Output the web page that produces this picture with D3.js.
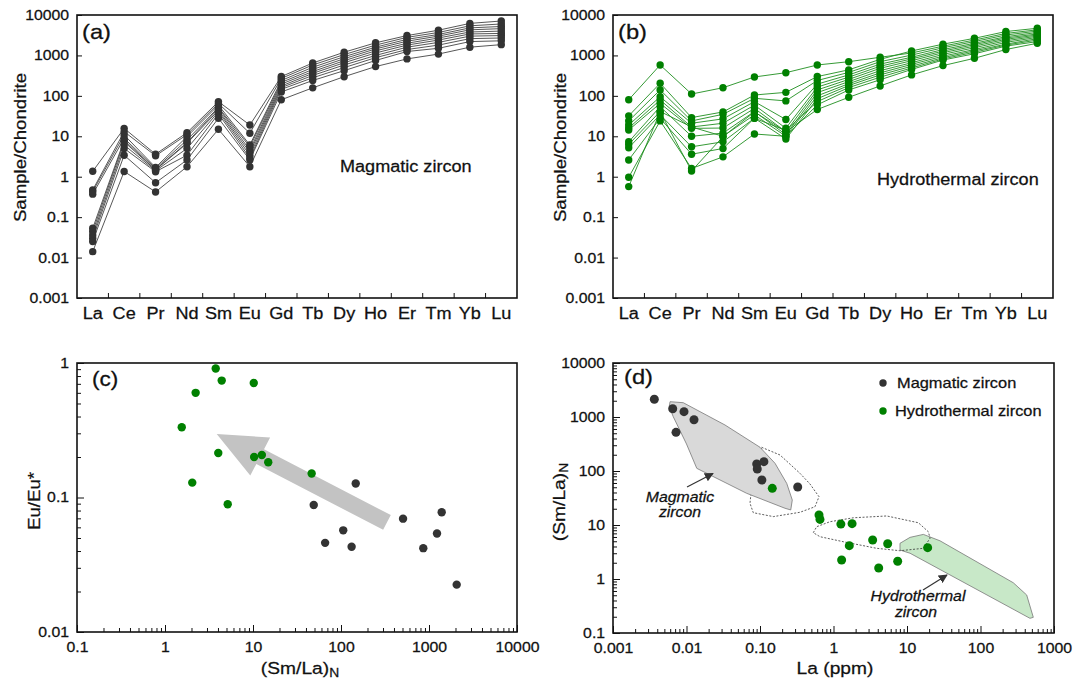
<!DOCTYPE html>
<html><head><meta charset="utf-8">
<script src="https://cdn.jsdelivr.net/npm/d3@7/dist/d3.min.js"></script>
<style>
body{margin:0;background:#fff}
svg text{font-family:"Liberation Sans",Arial,Helvetica,sans-serif;fill:#111;stroke:#111;stroke-width:0.25px}
</style></head>
<body><svg id="chart" width="1075" height="684"></svg>
<script>
// ---------- DATA ----------
const elements = ["La","Ce","Pr","Nd","Sm","Eu","Gd","Tb","Dy","Ho","Er","Tm","Yb","Lu"];
const reeTicks = [0.001,0.01,0.1,1,10,100,1000,10000];
const reeTickLabels = ["0.001","0.01","0.1","1","10","100","1000","10000"];

const magmaticREE = [
  [1.36,15.7,3.6,12.3,72,19,300,650,1200,2050,3100,4200,6200,7100],
  [0.47,13,3.3,11,65,11.9,270,580,1050,1800,2800,3700,5400,6000],
  [0.43,10.8,1.7,9.8,59,6.1,240,510,930,1600,2500,3300,4800,5200],
  [0.37,8.9,1.6,8.1,52,5.5,215,450,830,1450,2250,3000,4300,4600],
  [0.053,8.0,1.5,7.0,49,4.6,195,400,740,1300,2000,2700,3800,4000],
  [0.044,7.3,1.47,6.7,44,4.0,175,360,660,1150,1800,2400,3400,3500],
  [0.036,6.1,1.4,5.0,40.6,3.4,160,320,580,1000,1600,2100,3000,3100],
  [0.030,5.0,1.33,3.4,36,2.9,145,280,500,880,1400,1800,2600,2700],
  [0.025,3.4,0.71,2.6,28,2.6,125,240,420,750,1250,1500,2200,2300],
  [0.014,1.35,0.42,1.77,14.9,1.77,80,158,298,530,820,1080,1600,1850]
];
const hydrothermalREE = [
  [80,580,111,159,293,374,580,700,900,1150,1700,2400,3500,4300],
  [32,205,29,40,105,122,300,440,800,1290,1900,2650,3900,4700],
  [24,140,24,35,87,75,240,380,700,1020,1550,2200,3200,4000],
  [19,95,21,27,72,26,195,330,610,900,1400,2000,2900,3700],
  [16,79,17,21,59,15.8,165,290,540,820,1280,1850,2700,3400],
  [14.3,65,15.7,16,49,13,140,255,480,740,1170,1700,2500,3200],
  [7.3,54,10,12,41,11,120,225,420,660,1060,1550,2300,3000],
  [6.3,41,17,10,34,10,100,200,370,600,960,1400,2100,2800],
  [5.2,34,5.5,7.3,28,8.6,85,180,330,540,880,1300,1900,2600],
  [2.6,28,3.6,5,28,14,72,160,290,490,820,1200,1800,2400],
  [0.97,24,1.6,3.1,11.4,10,60,140,250,450,770,1100,1700,2200],
  [0.57,40,1.39,9.8,40,13,46,92,176,330,560,850,1400,2000]
];

// panel (c)
const cMagSmLa = [147,49,507,1394,106,66,132,861,1233,2064];
const cMagEuEu = [0.127,0.088,0.0696,0.0776,0.057,0.046,0.043,0.042,0.054,0.0225];
const cHydSmLa = [3.77,4.41,10.2,2.23,1.55,4.03,10.3,12.6,14.9,2.04,5.16,46.4];
const cHydEuEu = [0.91,0.74,0.71,0.60,0.333,0.214,0.20,0.207,0.183,0.129,0.089,0.151];
const cArrowTail = [333,0.0652];
const cArrowTip = [3.87,0.297];
const cXTicks = [0.1,1,10,100,1000,10000];
const cXLabels = ["0.1","1","10","100","1000","10000"];
const cYTicks = [0.01,0.1,1];
const cYLabels = ["0.01","0.1","1"];

// panel (d)
const dMagLa = [0.00365,0.00649,0.00925,0.01265,0.0072,0.0902,0.0918,0.113,0.106,0.326];
const dMagSmLa = [2128,1425,1255,891,520,135,109,149,68,50.6];
const dHydLa = [0.147,0.635,0.655,1.26,1.79,1.64,3.41,5.46,1.29,4.12,7.47,19.1];
const dHydSmLa = [47.8,15.3,12.7,10.4,10.6,4.14,5.27,4.5,2.25,1.6,2.13,3.8];
const dMagField = [[0.00597,1920],[0.00903,1840],[0.0334,711],[0.1,275],[0.16,139],[0.231,59],[0.275,29],[0.262,19],[0.219,20.4],[0.0659,38.6],[0.0138,112],[0.01,316],[0.0066,1014],[0.00583,1552]];
const dDotted1 = [[0.105,275],[0.187,198],[0.35,90.6],[0.479,57.4],[0.635,33.4],[0.56,21.8],[0.35,17.2],[0.152,14.3],[0.081,16.9],[0.0731,25.2],[0.0746,33.4]];
const dDotted2 = [[0.531,7.2],[0.59,9.3],[0.895,11.5],[1.86,13.6],[5.3,14.7],[14.3,11.0],[19.5,7.5],[20.6,5.7],[16.7,3.7],[8.0,3.34],[3.87,3.7],[1.36,4.9],[0.655,6.07]];
const dHydField = [[8.03,4.58],[11,5.9],[16.7,6.7],[28.1,5.1],[279,0.853],[425,0.506],[523,0.195],[471,0.187],[11,3.0],[8.03,3.44]];
const dXTicks = [0.001,0.01,0.1,1,10,100,1000];
const dXLabels = ["0.001","0.01","0.10","1","10","100","1000"];
const dYTicks = [0.1,1,10,100,1000,10000];
const dYLabels = ["0.1","1","10","100","1000","10000"];

// ---------- STYLE ----------
const SX = 1.13;
const MAG = "#333333", HYD = "#008000";
const svg = d3.select("#chart");
const defs = svg.append("defs");
defs.append("marker").attr("id","ah").attr("viewBox","0 0 10 10").attr("refX",9).attr("refY",5)
  .attr("markerWidth",9).attr("markerHeight",9).attr("markerUnits","userSpaceOnUse").attr("orient","auto")
  .append("path").attr("d","M0,0 L10,5 L0,10 z").attr("fill","#333");

function txt(g,x,y,s,size,o={}){
  const t=g.append("text")
    .attr("transform",`translate(${x},${y})`+(o.rot?` rotate(${o.rot})`:"")+` scale(${SX},1)`)
    .attr("text-anchor",o.anchor||"start").style("font-size",size+"px");
  if(o.italic) t.style("font-style","italic");
  if(o.weight) t.style("font-weight",o.weight);
  if(o.sub){ t.append("tspan").text(s); t.append("tspan").attr("dy",3).style("font-size",(size*0.72)+"px").text(o.sub); }
  else t.text(s);
  return t;
}
function frame(g,b){
  g.append("rect").attr("x",b.l).attr("y",b.t).attr("width",b.r-b.l).attr("height",b.b-b.t)
   .attr("fill","none").attr("stroke","#111").attr("stroke-width",1.6);
}
function styleAxis(a,size){
  a.select(".domain").remove();
  a.selectAll("line").attr("stroke","#111").attr("stroke-width",1);
  a.selectAll("text").style("font-size",size+"px").attr("fill","#111")
   .attr("transform",`scale(${SX},1)`);
}
function isMajor(v,maj){return maj.some(m=>Math.abs(v-m)/m<1e-6);}

// ---------- REE panels ----------
function reePanel(b,data,color,lineColor,tag,note,noteX,noteY,ylabX){
  const g=svg.append("g");
  const x=d3.scaleBand().domain(elements).range([b.l,b.r]);
  const y=d3.scaleLog().domain([0.001,10000]).range([b.b,b.t]);
  const ya=g.append("g").attr("transform",`translate(${b.l},0)`)
    .call(d3.axisLeft(y).tickValues(reeTicks).tickFormat((d,i)=>reeTickLabels[i]).tickSizeInner(-5).tickSizeOuter(0).tickPadding(7));
  styleAxis(ya,14);
  const xa=g.append("g").attr("transform",`translate(0,${b.b})`)
    .call(d3.axisBottom(x).tickSize(0).tickPadding(10));
  styleAxis(xa,16);
  g.selectAll("line.bt").data(elements.slice(1)).join("line").attr("class","bt")
    .attr("x1",d=>x(d)).attr("x2",d=>x(d)).attr("y1",b.b).attr("y2",b.b-5).attr("stroke","#111");
  const line=d3.line().x((d,i)=>x(elements[i])+x.bandwidth()/2).y(d=>y(d));
  g.selectAll("path.s").data(data).join("path").attr("class","s").attr("d",line)
    .attr("fill","none").attr("stroke",lineColor).attr("stroke-width",0.9);
  data.forEach(s=>{
    g.selectAll(null).data(s).join("circle")
      .attr("cx",(d,i)=>x(elements[i])+x.bandwidth()/2).attr("cy",d=>y(d)).attr("r",3.7).attr("fill",color);
  });
  frame(g,b);
  txt(g,b.l+5,b.t+24,tag,21);
  txt(g,noteX,noteY,note,16);
  txt(g,ylabX,(b.t+b.b)/2-9,"Sample/Chondrite",16.5,{rot:-90,anchor:"middle"});
}
reePanel({l:77,r:517,t:15,b:298},magmaticREE,MAG,"#444","(a)","Magmatic zircon",340,172,26);
reePanel({l:613,r:1053,t:15,b:298},hydrothermalREE,HYD,"#1f8f1f","(b)","Hydrothermal zircon",877,185,566);

// ---------- log axes helper ----------
function logAxes(g,b,x,y,xT,xL,yT,yL){
  const xa=g.append("g").attr("transform",`translate(0,${b.b})`)
    .call(d3.axisBottom(x).tickValues(xT).tickFormat((d,i)=>xL[i]).tickSizeInner(-7).tickSizeOuter(0).tickPadding(10));
  styleAxis(xa,14);
  const xm=g.append("g").attr("transform",`translate(0,${b.b})`)
    .call(d3.axisBottom(x).tickValues(x.ticks(12).filter(v=>!isMajor(v,xT))).tickFormat("").tickSizeInner(-4).tickSizeOuter(0));
  styleAxis(xm,14);
  const ya=g.append("g").attr("transform",`translate(${b.l},0)`)
    .call(d3.axisLeft(y).tickValues(yT).tickFormat((d,i)=>yL[i]).tickSizeInner(-7).tickSizeOuter(0).tickPadding(7));
  styleAxis(ya,14);
  const ym=g.append("g").attr("transform",`translate(${b.l},0)`)
    .call(d3.axisLeft(y).tickValues(y.ticks(12).filter(v=>!isMajor(v,yT))).tickFormat("").tickSizeInner(-4).tickSizeOuter(0));
  styleAxis(ym,14);
}

// ---------- panel (c) ----------
(function(){
  const b={l:77,r:517,t:363,b:632};
  const g=svg.append("g");
  const x=d3.scaleLog().domain([0.1,10000]).range([b.l,b.r]);
  const y=d3.scaleLog().domain([0.01,1]).range([b.b,b.t]);
  logAxes(g,b,x,y,cXTicks,cXLabels,cYTicks,cYLabels);
  // grey trend arrow
  const p0=[x(cArrowTail[0]),y(cArrowTail[1])], p1=[x(cArrowTip[0]),y(cArrowTip[1])];
  const dx=p1[0]-p0[0], dy=p1[1]-p0[1], L=Math.hypot(dx,dy), u=[dx/L,dy/L], n=[-u[1],u[0]];
  const hw=8.3, hh=21.5, hl=49;
  const hb=[p1[0]-u[0]*hl,p1[1]-u[1]*hl];
  const pt=(p,k)=>[p[0]+n[0]*k,p[1]+n[1]*k];
  const poly=[pt(p0,hw),pt(hb,hw),pt(hb,hh),p1,pt(hb,-hh),pt(hb,-hw),pt(p0,-hw)];
  g.append("path").attr("d","M"+poly.map(p=>p.join(",")).join("L")+"Z").attr("fill","#c3c3c3");
  g.selectAll("circle.m").data(cMagSmLa).join("circle").attr("class","m")
    .attr("cx",d=>x(d)).attr("cy",(d,i)=>y(cMagEuEu[i])).attr("r",4.2).attr("fill",MAG);
  g.selectAll("circle.h").data(cHydSmLa).join("circle").attr("class","h")
    .attr("cx",d=>x(d)).attr("cy",(d,i)=>y(cHydEuEu[i])).attr("r",4.2).attr("fill",HYD);
  frame(g,b);
  txt(g,b.l+15,b.t+23,"(c)",20);
  txt(g,40,501,"Eu/Eu*",16.5,{rot:-90,anchor:"middle"});
  txt(g,300,674,"(Sm/La)",17,{anchor:"middle",sub:"N"});
})();

// ---------- panel (d) ----------
(function(){
  const b={l:613,r:1054,t:363,b:633};
  const g=svg.append("g");
  const x=d3.scaleLog().domain([0.001,1000]).range([b.l,b.r]);
  const y=d3.scaleLog().domain([0.1,10000]).range([b.b,b.t]);
  logAxes(g,b,x,y,dXTicks,dXLabels,dYTicks,dYLabels);
  const pl=pts=>"M"+pts.map(p=>x(p[0])+","+y(p[1])).join("L")+"Z";
  g.append("path").attr("d",pl(dDotted1)).attr("fill","none").attr("stroke","#333").attr("stroke-width",0.8).attr("stroke-dasharray","2,1.6");
  g.append("path").attr("d",pl(dMagField)).attr("fill","#d9d9d9").attr("stroke","#777").attr("stroke-width",0.8);
  g.append("path").attr("d",pl(dHydField)).attr("fill","#c8e8c8").attr("stroke","#777").attr("stroke-width",0.8);
  g.append("path").attr("d",pl(dDotted2)).attr("fill","none").attr("stroke","#333").attr("stroke-width",0.8).attr("stroke-dasharray","2,1.6");
  g.selectAll("circle.m").data(dMagLa).join("circle").attr("class","m")
    .attr("cx",d=>x(d)).attr("cy",(d,i)=>y(dMagSmLa[i])).attr("r",4.5).attr("fill",MAG);
  g.selectAll("circle.h").data(dHydLa).join("circle").attr("class","h")
    .attr("cx",d=>x(d)).attr("cy",(d,i)=>y(dHydSmLa[i])).attr("r",4.5).attr("fill",HYD);
  // annotations
  txt(g,680,502,"Magmatic",14,{anchor:"middle",italic:true});
  txt(g,680,517,"zircon",14,{anchor:"middle",italic:true});
  g.append("line").attr("x1",687).attr("y1",487).attr("x2",713).attr("y2",473.5).attr("stroke","#333").attr("stroke-width",1.2).attr("marker-end","url(#ah)");
  txt(g,918,601,"Hydrothermal",14,{anchor:"middle",italic:true});
  txt(g,916,617,"zircon",14,{anchor:"middle",italic:true});
  g.append("line").attr("x1",923).attr("y1",590).attr("x2",947).attr("y2",575).attr("stroke","#333").attr("stroke-width",1.2).attr("marker-end","url(#ah)");
  // legend
  g.append("circle").attr("cx",883).attr("cy",383).attr("r",3.7).attr("fill",MAG);
  txt(g,897,388,"Magmatic zircon",14.5);
  g.append("circle").attr("cx",883).attr("cy",411).attr("r",3.7).attr("fill",HYD);
  txt(g,895,416,"Hydrothermal zircon",14.5);
  frame(g,b);
  txt(g,b.l+11,b.t+21,"(d)",21);
  txt(g,565,502,"(Sm/La)",17,{rot:-90,anchor:"middle",sub:"N"});
  txt(g,835,674,"La (ppm)",17,{anchor:"middle"});
})();
</script></body></html>
